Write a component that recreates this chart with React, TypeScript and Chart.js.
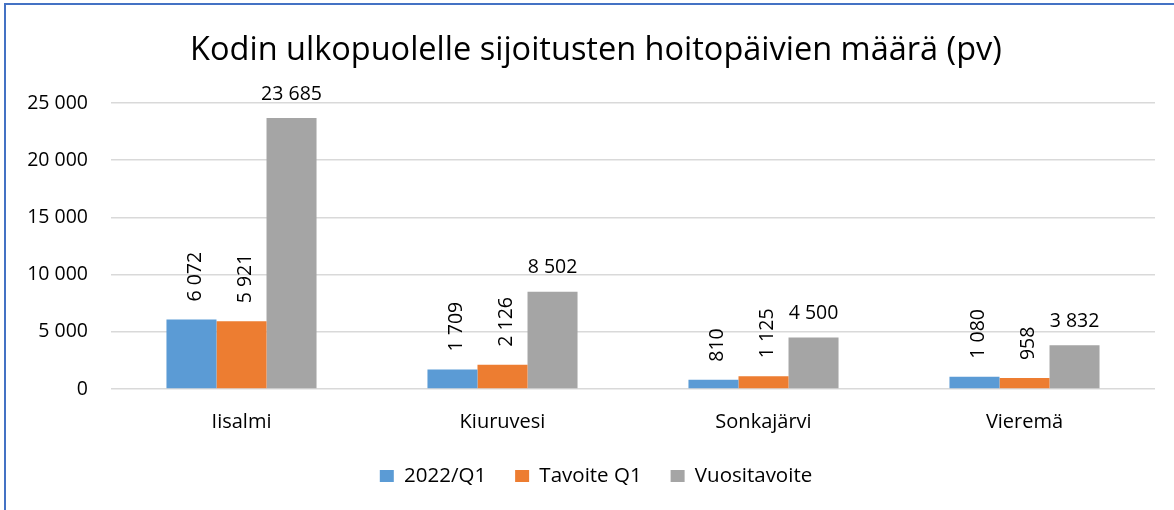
import { useEffect, useRef } from 'react';
import { Chart, registerables } from 'chart.js';

Chart.register(...registerables);

const categories = ['Iisalmi', 'Kiuruvesi', 'Sonkajärvi', 'Vieremä'];
const seriesNames = ['2022/Q1', 'Tavoite Q1', 'Vuositavoite'];
const q1Values = [6072, 1709, 810, 1080];
const targetQ1Values = [5921, 2126, 1125, 958];
const yearTargetValues = [23685, 8502, 4500, 3832];
const yTicks = [0, 5000, 10000, 15000, 20000, 25000];
const seriesColors = ['#5B9BD5', '#ED7D31', '#A5A5A5'];
const titleText = 'Kodin ulkopuolelle sijoitusten hoitopäivien määrä (pv)';

const FONT = '"Open Sans"';
const FS = 19.5;

const fmt = (v: number) => String(v).replace(/\B(?=(\d{3})+(?!\d))/g, ' ');

const labelPlugin = {
  id: 'barValueLabels',
  afterDatasetsDraw(chart: any) {
    const ctx = chart.ctx;
    ctx.save();
    ctx.font = `${FS}px ${FONT}`;
    ctx.fillStyle = '#000';
    chart.data.datasets.forEach((ds: any, di: number) => {
      const meta = chart.getDatasetMeta(di);
      meta.data.forEach((el: any, i: number) => {
        const text = fmt(ds.data[i]);
        const { x, y } = el.getProps(['x', 'y'], true);
        if (di < 2) {
          ctx.save();
          ctx.translate(x, y - 18);
          ctx.rotate(-Math.PI / 2);
          ctx.textAlign = 'left';
          ctx.textBaseline = 'alphabetic';
          ctx.fillText(text, 0, 9.5);
          ctx.restore();
        } else {
          ctx.textAlign = 'center';
          ctx.textBaseline = 'alphabetic';
          ctx.fillText(text, x, y - 18.5);
        }
      });
    });
    ctx.restore();
  },
};

export default function App() {
  const ref = useRef<HTMLCanvasElement>(null);
  useEffect(() => {
    const canvas = ref.current!;
    const values = [q1Values, targetQ1Values, yearTargetValues];
    const chart = new Chart(canvas, {
      type: 'bar',
      data: {
        labels: categories,
        datasets: seriesNames.map((name, i) => ({
          label: name,
          data: values[i],
          backgroundColor: seriesColors[i],
          borderWidth: 0,
          categoryPercentage: 0.575,
          barPercentage: 1,
        })),
      },
      options: {
        responsive: false,
        animation: false,
        devicePixelRatio: 1,
        layout: { padding: { left: 0, right: 0, top: 0, bottom: 13.75 } },
        plugins: {
          title: {
            display: true,
            text: titleText,
            color: '#000',
            font: { family: FONT, size: 32.5, weight: 'normal' },
            padding: { top: 31, bottom: 33 },
          },
          legend: {
            display: true,
            position: 'bottom',
            labels: {
              color: '#000',
              font: { family: FONT, size: 20.5 },
              boxWidth: 14,
              boxHeight: 12,
              padding: 29,
            },
          },
          tooltip: { enabled: false },
        },
        scales: {
          x: {
            grid: { display: false },
            border: { display: false },
            ticks: {
              color: '#000',
              font: { family: FONT, size: 20 },
              padding: 13,
              maxRotation: 0,
            },
            afterFit: (s: any) => {
              s.height = 47.75;
            },
          },
          y: {
            min: 0,
            max: 25000,
            grid: { color: '#d9d9d9', lineWidth: 1.5, drawTicks: false },
            border: { display: false },
            ticks: {
              color: '#000',
              font: { family: FONT, size: FS },
              padding: 23,
              callback: (v: any) => fmt(Number(v)),
            },
            afterBuildTicks: (s: any) => {
              s.ticks = yTicks.map((v) => ({ value: v }));
            },
            afterFit: (s: any) => {
              s.width = 111;
            },
          },
          yRight: {
            position: 'right',
            display: true,
            grid: { display: false },
            border: { display: false },
            ticks: { display: false },
            afterFit: (s: any) => {
              s.width = 37;
            },
          },
        },
      },
      plugins: [labelPlugin],
    });
    return () => chart.destroy();
  }, []);

  return (
    <div
      style={{
        position: 'fixed',
        left: 0,
        top: 0,
        width: 1174,
        height: 510,
        overflow: 'hidden',
        background: '#fff',
      }}
    >
      <div
        style={{
          position: 'absolute',
          left: 4,
          top: 3,
          width: 1300,
          height: 600,
          borderTop: '2px solid #4472C4',
          borderLeft: '2px solid #4472C4',
        }}
      />
      <canvas
        ref={ref}
        width={1192}
        height={510}
        style={{ position: 'absolute', left: 0, top: 0, width: 1192, height: 510 }}
      />
    </div>
  );
}
